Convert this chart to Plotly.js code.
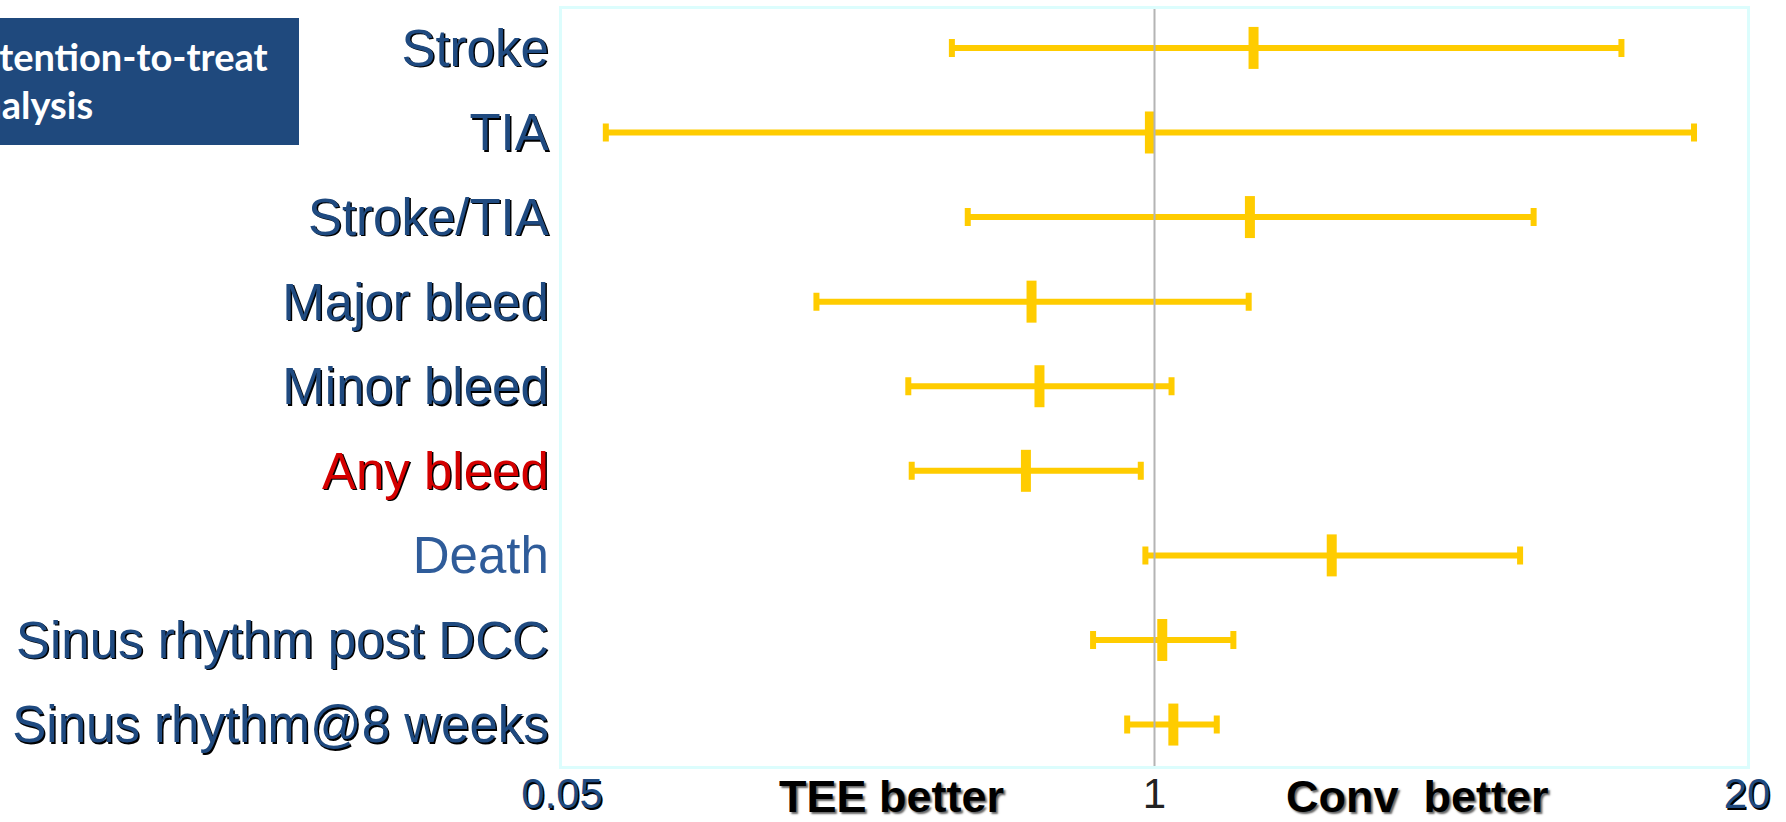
<!DOCTYPE html>
<html>
<head>
<meta charset="utf-8">
<script src="https://cdn.plot.ly/plotly-3.0.1.min.js"></script>
<style>html,body{margin:0;padding:0;background:#fff;}#chart{width:1786px;height:822px;}</style>
</head>
<body>
<div id="chart"></div>
<script>
const categories = ["Stroke", "TIA", "Stroke/TIA", "Major bleed", "Minor bleed", "Any bleed", "Death", "Sinus rhythm post DCC", "Sinus rhythm@8 weeks"];
const categoryLabels = [
  "Stroke", "TIA", "Stroke/TIA", "Major bleed", "Minor bleed",
  "<span style='color:#d40000'>Any bleed</span>",
  "<span style='color:#2f5c9a;text-shadow:none'>Death</span>",
  "Sinus rhythm post DCC", "Sinus rhythm@8 weeks"
];
const pointEstimate = [1.65, 0.977, 1.62, 0.537, 0.559, 0.522, 2.45, 1.04, 1.10];
const ciLower       = [0.359, 0.0624, 0.389, 0.181, 0.288, 0.293, 0.955, 0.733, 0.871];
const ciUpper       = [10.6, 15.3, 6.80, 1.61, 1.09, 0.933, 6.35, 1.49, 1.37];
const xTickVals = [0.05, 1, 20];
const xTickText = ["0.05", "<span style='color:#222;text-shadow:none'>1</span>", "20"];
const boxLines = ["Intention-to-treat", "analysis"];

const plusErr = pointEstimate.map((v, i) => ciUpper[i] - v);
const minusErr = pointEstimate.map((v, i) => v - ciLower[i]);

const yellow = "#ffcc00";
const trace = {
  type: "scatter",
  mode: "markers",
  x: pointEstimate,
  y: categories,
  marker: { symbol: "line-ns", size: 30, color: yellow, line: { color: yellow, width: 10 } },
  error_x: { type: "data", symmetric: false, array: plusErr, arrayminus: minusErr,
             color: yellow, thickness: 6, width: 9 },
  hoverinfo: "x+y",
  showlegend: false
};

const L = 562, R = 39, T = 9, B = 56;
const W = 1786, H = 822;
const pw = W - L - R, ph = H - T - B;
const px = v => (v - L) / pw;
const py = v => 1 - (v - T) / ph;

const boxFont = { family: "Lato, Open Sans, sans-serif", size: 38, color: "#ffffff" };

const layout = {
  width: W, height: H,
  margin: { l: L, r: R, t: T, b: B },
  paper_bgcolor: "#ffffff",
  plot_bgcolor: "#ffffff",
  font: { family: "Liberation Sans, Arial, sans-serif" },
  xaxis: {
    type: "log",
    range: [Math.log10(0.05), Math.log10(20)],
    tickvals: xTickVals,
    ticktext: xTickText,
    ticks: "",
    showgrid: false,
    zeroline: false,
    showline: true, mirror: true, linecolor: "#dcfdfd", linewidth: 3,
    tickfont: { size: 42, color: "#1f4a80", shadow: "1.5px 1.5px 0px #000" },
    ticklabelstandoff: -11
  },
  yaxis: {
    type: "category",
    categoryarray: categories,
    tickvals: categories,
    ticktext: categoryLabels,
    range: [8.49, -0.46],
    ticks: "",
    showgrid: false,
    zeroline: false,
    showline: true, mirror: true, linecolor: "#dcfdfd", linewidth: 3,
    tickfont: { size: 51, color: "#1f4a80", shadow: "1.5px 1.5px 0px #000" },
    ticklabelstandoff: 0
  },
  shapes: [
    { type: "line", xref: "x", yref: "paper", x0: 1, x1: 1, y0: 0, y1: 1,
      line: { color: "#b4b4b4", width: 2 } },
    { type: "rect", xref: "paper", yref: "paper", x0: px(-5), x1: px(299), y0: py(18), y1: py(145),
      fillcolor: "#1f497d", line: { width: 0 } }
  ],
  annotations: [
    { xref: "paper", yref: "paper", x: px(270), y: py(56), xanchor: "right", yanchor: "middle",
      showarrow: false, text: "<b>" + boxLines[0] + "</b>", font: boxFont },
    { xref: "paper", yref: "paper", x: px(95), y: py(104), xanchor: "right", yanchor: "middle",
      showarrow: false, text: "<b>" + boxLines[1] + "</b>", font: boxFont },
    { xref: "paper", yref: "paper", x: px(891), y: py(796), xanchor: "center", yanchor: "middle",
      showarrow: false, text: "<b>TEE better</b>",
      font: { size: 45, color: "#000000", shadow: "2px 2px 2px #666" } },
    { xref: "paper", yref: "paper", x: px(1417), y: py(796), xanchor: "center", yanchor: "middle",
      showarrow: false, text: "<b>Conv\u00a0 better</b>",
      font: { size: 45, color: "#000000", shadow: "2px 2px 2px #666" } }
  ]
};

Plotly.newPlot("chart", [trace], layout, { displayModeBar: false, responsive: false });
</script>
</body>
</html>
